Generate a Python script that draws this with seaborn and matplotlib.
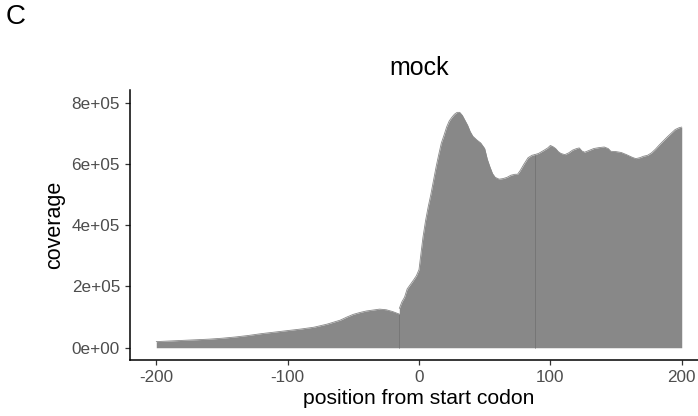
import numpy as np
import pandas as pd
import seaborn as sns
import matplotlib
matplotlib.use("Agg")
import matplotlib.pyplot as plt

# Coverage profile around the start codon, split into the three regions
upstream_pos = [-200, -190, -180, -170, -160, -150, -140, -130, -120, -110, -100,
                -90, -80, -70, -60, -55, -50, -45, -40, -35, -30, -25, -20, -17, -15]
upstream_cov = [20e3, 22e3, 24e3, 26e3, 28e3, 31e3, 35e3, 40e3, 46e3, 51e3, 56e3,
                61e3, 67e3, 77e3, 90e3, 100e3, 109e3, 115e3, 120e3, 123e3, 126e3,
                124e3, 118e3, 113e3, 110e3]

start_pos = [-15, -13, -11, -9, -6, -4, -2, 0, 1, 3, 5, 7, 9, 11, 13, 15, 17, 19, 21,
             23, 25, 27, 29, 31, 33, 35, 37, 39, 41, 44, 47, 50, 52, 54, 56, 58, 61,
             64, 67, 70, 73, 75, 77, 80, 83, 86, 88]
start_cov = [128e3, 150e3, 165e3, 192e3, 210e3, 222e3, 235e3, 255e3, 290e3, 360e3,
             415e3, 460e3, 500e3, 545e3, 590e3, 630e3, 668e3, 693e3, 720e3, 740e3,
             752e3, 762e3, 768e3, 768e3, 758e3, 742e3, 726e3, 705e3, 690e3, 678e3,
             668e3, 650e3, 615e3, 590e3, 568e3, 556e3, 550e3, 552e3, 556e3, 563e3,
             566e3, 566e3, 578e3, 600e3, 620e3, 628e3, 630e3]

cds_pos = [88, 91, 95, 98, 100, 102, 104, 106, 108, 111, 114, 117, 120, 122, 124, 126,
           129, 133, 137, 141, 144, 146, 150, 154, 158, 162, 165, 168, 171, 174, 177,
           180, 183, 186, 189, 192, 195, 198, 200]
cds_cov = [630e3, 634e3, 644e3, 652e3, 660e3, 656e3, 650e3, 640e3, 634e3, 630e3,
           636e3, 645e3, 650e3, 652e3, 642e3, 638e3, 643e3, 650e3, 653e3, 655e3,
           650e3, 641e3, 640e3, 637e3, 630e3, 622e3, 617e3, 620e3, 625e3, 628e3,
           636e3, 648e3, 662e3, 675e3, 688e3, 700e3, 712e3, 718e3, 720e3]

region_boundaries = [-15, 88]

x_ticks = [-200, -100, 0, 100, 200]
y_ticks = [0, 2e5, 4e5, 6e5, 8e5]
y_tick_labels = ["0e+00", "2e+05", "4e+05", "6e+05", "8e+05"]

sns.set_theme(style="white")
plt.rcParams["font.family"] = ["Liberation Sans", "DejaVu Sans"]

fill_color = "#888888"
fig = plt.figure(figsize=(6.98, 4.16), dpi=100)
ax = fig.add_axes([130 / 698, 1 - 360 / 416, 578 / 698, 270 / 416])

frames = []
for name, p, c in [("upstream", upstream_pos, upstream_cov),
                   ("start", start_pos, start_cov),
                   ("cds", cds_pos, cds_cov)]:
    frames.append(pd.DataFrame({"position": p, "coverage": c, "region": name}))
df = pd.concat(frames, ignore_index=True)

sns.lineplot(data=df, x="position", y="coverage", units="region", estimator=None,
             color=fill_color, linewidth=0.6, ax=ax, legend=False)
for name, grp in df.groupby("region"):
    ax.fill_between(grp["position"], 0, grp["coverage"], color=fill_color,
                    linewidth=0)

# thin darker seams where the regions meet
for b in region_boundaries:
    top = min(df.loc[df["position"] == b, "coverage"])
    ax.vlines(b, 0, top, color="#767676", linewidth=0.7)

ax.set_xlim(-220, 220)
ax.set_ylim(-40e3, 841e3)
ax.set_xticks(x_ticks)
ax.set_xticklabels([str(t) for t in x_ticks])
ax.set_yticks(y_ticks)
ax.set_yticklabels(y_tick_labels)

sns.despine(ax=ax)
for side in ["left", "bottom"]:
    ax.spines[side].set_color("black")
    ax.spines[side].set_linewidth(1.1)
ax.tick_params(axis="both", which="major", length=3.6, width=0.9, color="#333333",
               labelsize=12.3, labelcolor="#4D4D4D", pad=3.6, bottom=True, left=True)

ax.set_xlabel("position from start codon", fontsize=15.2, color="black", labelpad=3)
ax.set_ylabel("coverage", fontsize=15.5, color="black", labelpad=5)
ax.set_title("mock", fontsize=18, color="black", pad=11)

fig.text(6 / 698, 1 - 17 / 416, "C", fontsize=20, color="black", va="center",
         ha="left")

fig.savefig("out.png", dpi=100)
